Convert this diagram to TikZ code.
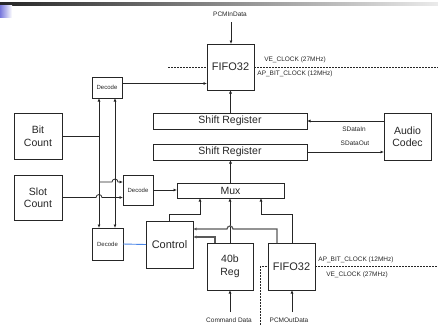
\documentclass[tikz,border=0pt]{standalone}
\usepackage{fontspec}
\setmainfont{Liberation Sans}
\usetikzlibrary{arrows.meta}
\begin{document}
\begin{tikzpicture}[x=1pt,y=-1pt,
  box/.style={draw=black!85, line width=0.8pt, inner sep=0pt, outer sep=0pt, anchor=north west, align=center, text=black!85, font=\fontsize{10.5}{12.5}\selectfont},
  bigtxt/.style={font=\fontsize{11}{13}\selectfont},
  smalltxt/.style={font=\fontsize{6}{7}\selectfont},
  lbl/.style={inner sep=0pt, text=black!85, font=\fontsize{6.5}{7.5}\selectfont},
  ln/.style={line width=0.8pt, draw=black!85},
  arr/.style={ln, -{Latex[length=3.5pt,width=3pt]}},
  darr/.style={ln, {Latex[length=3.5pt,width=3pt]}-{Latex[length=3.5pt,width=3pt]}},
  garr/.style={line width=1.2pt, draw=black!65, -{Latex[length=3.5pt,width=3pt]}},
  clk/.style={line width=0.7pt, dash pattern=on 2pt off 1pt, draw=black!85},
]
\useasboundingbox (0,0) rectangle (438,325);
% slide decoration
\shade[left color=black!85, middle color=black!40, right color=black!8] (0,2) rectangle (438,5);
\shade[left color={rgb,255:red,120;green,120;blue,220}, right color=white] (0,5) rectangle (12,17);

% boxes
\node[box,bigtxt,minimum width=47pt,minimum height=46pt] (fifoA) at (207,44) {FIFO32};
\node[box,smalltxt,minimum width=30pt,minimum height=21pt] (decA) at (92,77) {Decode};
\node[box,minimum width=48pt,minimum height=46pt] (bit) at (14,113) {Bit\\Count};
\node[box,minimum width=48pt,minimum height=45pt] (slot) at (14,175) {Slot\\Count};
\node[box,minimum width=154pt,minimum height=16pt] (sr1) at (153,113) {Shift Register};
\node[box,minimum width=154pt,minimum height=16pt] (sr2) at (153,144) {Shift Register};
\node[box,minimum width=47pt,minimum height=47pt] (codec) at (384,113) {Audio\\Codec};
\node[box,smalltxt,minimum width=30pt,minimum height=30pt] (decB) at (123,175) {Decode};
\node[box,minimum width=107pt,minimum height=15pt] (mux) at (177,183) {Mux};
\node[box,smalltxt,minimum width=31pt,minimum height=32pt] (decC) at (92,228) {Decode};
\node[box,bigtxt,minimum width=47pt,minimum height=47pt] (ctrl) at (146,221) {Control};
\node[box,minimum width=46pt,minimum height=47pt] (reg) at (207,243) {40b\\Reg};
\node[box,bigtxt,minimum width=47pt,minimum height=47pt] (fifoB) at (268,243) {FIFO32};

% labels
\node[lbl] (pcmin) at (230,14) {PCMInData};
\node[lbl] (veA) at (295,60) {VE\_CLOCK (27MHz)};
\node[lbl] (apA) at (295,74) {AP\_BIT\_CLOCK (12MHz)};
\node[lbl] (sin) at (354,129) {SDataIn};
\node[lbl] (sout) at (355,143) {SDataOut};
\node[lbl] (apB) at (356,260) {AP\_BIT\_CLOCK (12MHz)};
\node[lbl] (veB) at (357,275) {VE\_CLOCK (27MHz)};
\node[lbl] (cmd) at (229,320) {Command Data};
\node[lbl] (pcmout) at (289,320) {PCMOutData};

% coordinates
\coordinate (pcminEnd) at (231,22);
\coordinate (clkAL) at (168,67);
\coordinate (clkAR) at (438,67);
\coordinate (clkBB) at (260,325);
\coordinate (clkBR) at (438,266.5);
\coordinate (cmdEnd) at (230,312);
\coordinate (pcmoutEnd) at (292,312);
\coordinate (busL) at (99,0);
\coordinate (busR) at (115,0);

% connectors
\draw[arr] (pcminEnd) -- (pcminEnd |- fifoA.north);
\draw[arr] ([yshift=4pt]decA.east) -- ([yshift=4pt]decA.east -| fifoA.west);
\draw[darr] (busL |- decA.south) -- (busL |- decC.north);
\draw[darr] (busR |- decA.south) -- (busR |- decC.north);
\draw[ln] (bit.east) -- (bit.east -| busL);
\draw[arr] ([yshift=8pt]decB.west -| busL) -- ([xshift=-3pt,yshift=8pt]decB.west -| busR) arc[start angle=180,end angle=0,radius=3pt] -- ([yshift=8pt]decB.west);
\draw[arr] (slot.east) -- ([xshift=-3pt]slot.east -| busL) arc[start angle=180,end angle=0,radius=3pt] -- (slot.east -| decB.west);
\draw[arr] (decB.east) -- (decB.east -| mux.west);
\draw[arr] (mux.north) -- (mux.north |- sr2.south);
\draw[arr] (fifoA.south |- sr1.north) -- (fifoA.south);
\draw[arr] (codec.west |- sr1.east) -- (sr1.east);
\draw[arr] (sr2.east) -- (sr2.east -| codec.west);
\draw[arr] ([xshift=23pt]ctrl.north west) -- ++(0,-7) -| ([xshift=23pt]mux.south west);
\draw[arr] (reg.north) -- (reg.north |- mux.south);
\draw[arr] ([xshift=24pt]fifoB.north west) -- ++(0,-29) -| ([xshift=84pt]mux.south west);
\draw[garr] ([xshift=9pt]fifoB.north west) -- ([xshift=9pt,yshift=14pt]fifoB.north west) -- ([xshift=3pt,yshift=14pt]reg.north) arc[start angle=0,end angle=180,radius=3pt] -- ([yshift=15.5pt]ctrl.east);
\draw[garr] ([xshift=8pt]reg.north west) -- ([xshift=8pt,yshift=6pt]reg.north west) -- ([yshift=7.5pt]ctrl.east);
\draw[line width=0.9pt, draw={rgb,255:red,74;green,134;blue,232}] (decC.east) -- (ctrl.west);
\draw[arr] (cmdEnd) -- (cmdEnd |- reg.south);
\draw[arr] (pcmoutEnd) -- (pcmoutEnd |- fifoB.south);

% clock lines
\draw[clk] (clkAL) -- (fifoA.west);
\draw[clk] (fifoA.east) -- (clkAR);
\draw[clk] (clkBB) |- (fifoB.west);
\draw[clk] (fifoB.east) -- (clkBR);
\end{tikzpicture}
\end{document}
